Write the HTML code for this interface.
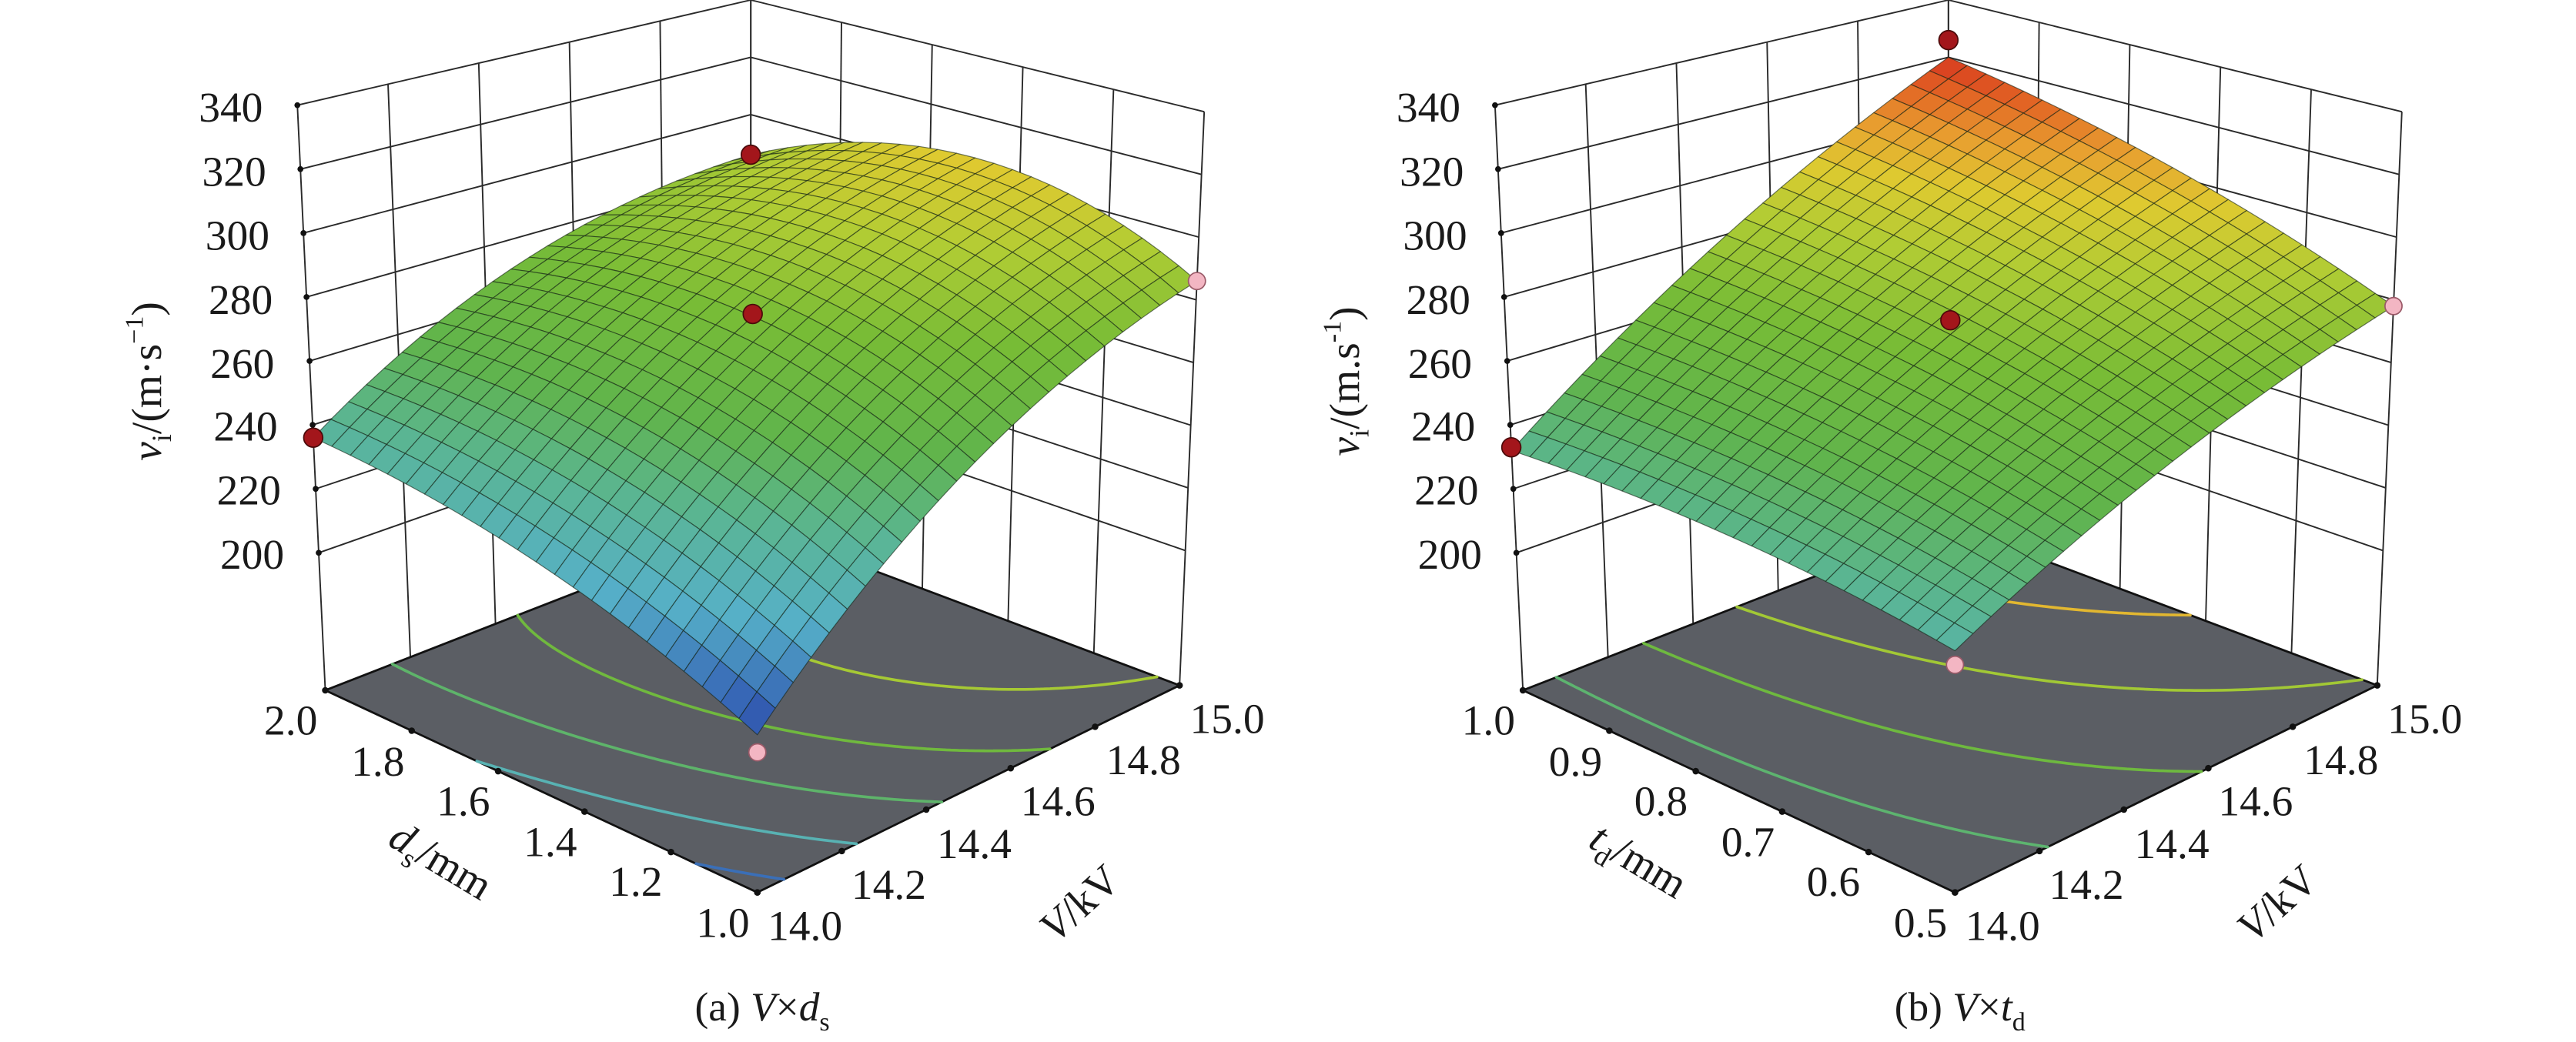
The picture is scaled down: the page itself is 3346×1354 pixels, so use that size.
<!DOCTYPE html>
<html><head><meta charset="utf-8"><style>
html,body{margin:0;padding:0;background:#fff;}
svg{display:block;}
text{font-family:"Liberation Serif","DejaVu Serif",serif;fill:#1a1a1a;}
</style></head><body>
<svg id="s" width="3346" height="1354" viewBox="0 0 1568 634" preserveAspectRatio="none" xmlns="http://www.w3.org/2000/svg">
<rect width="1568" height="634" fill="#fff"/>
<g id="ga"></g>
<g id="gb"></g>
<g font-size="26" font-family="Liberation Serif, DejaVu Serif, serif" style="font-family:'Liberation Serif','DejaVu Serif',serif">
<g text-anchor="end">
<text x="160" y="74">340</text><text x="162" y="113">320</text><text x="164" y="152">300</text><text x="166" y="191">280</text>
<text x="167" y="230">260</text><text x="169" y="268">240</text><text x="171" y="307">220</text><text x="173" y="346">200</text>
</g>
<g text-anchor="middle">
<text x="177" y="447">2.0</text><text x="230" y="472">1.8</text><text x="282" y="496">1.6</text><text x="335" y="521">1.4</text><text x="387" y="545">1.2</text><text x="440" y="570">1.0</text>
<text x="490" y="572">14.0</text><text x="541" y="547">14.2</text><text x="593" y="522">14.4</text><text x="644" y="496">14.6</text><text x="696" y="471">14.8</text><text x="747" y="446">15.0</text>
</g>
<text transform="translate(264,531) rotate(31)" text-anchor="middle"><tspan font-style="italic">d</tspan><tspan font-size="17" dy="6">s</tspan><tspan dy="-6">/mm</tspan></text>
<text transform="translate(663,556) rotate(-42)" text-anchor="middle"><tspan font-style="italic">V</tspan>/kV</text>
<text transform="translate(98,232) rotate(-90)" text-anchor="middle"><tspan font-style="italic">v</tspan><tspan font-size="17" dy="6">i</tspan><tspan dy="-6">/(m·s</tspan><tspan font-size="16" dy="-11">−1</tspan><tspan dy="11">)</tspan></text>
<text x="464" y="621" text-anchor="middle" font-size="25">(a) <tspan font-style="italic">V</tspan>×<tspan font-style="italic">d</tspan><tspan font-size="16" dy="6">s</tspan></text>

<g text-anchor="end">
<text x="889" y="74">340</text><text x="891" y="113">320</text><text x="893" y="152">300</text><text x="895" y="191">280</text>
<text x="896" y="230">260</text><text x="898" y="268">240</text><text x="900" y="307">220</text><text x="902" y="346">200</text>
</g>
<g text-anchor="middle">
<text x="906" y="447">1.0</text><text x="959" y="472">0.9</text><text x="1011" y="496">0.8</text><text x="1064" y="521">0.7</text><text x="1116" y="545">0.6</text><text x="1169" y="570">0.5</text>
<text x="1219" y="572">14.0</text><text x="1270" y="547">14.2</text><text x="1322" y="522">14.4</text><text x="1373" y="496">14.6</text><text x="1425" y="471">14.8</text><text x="1476" y="446">15.0</text>
</g>
<text transform="translate(993,531) rotate(31)" text-anchor="middle"><tspan font-style="italic">t</tspan><tspan font-size="17" dy="6">d</tspan><tspan dy="-6">/mm</tspan></text>
<text transform="translate(1392,556) rotate(-42)" text-anchor="middle"><tspan font-style="italic">V</tspan>/kV</text>
<text transform="translate(827,232) rotate(-90)" text-anchor="middle"><tspan font-style="italic">v</tspan><tspan font-size="17" dy="6">i</tspan><tspan dy="-6">/(m.s</tspan><tspan font-size="16" dy="-11">-1</tspan><tspan dy="11">)</tspan></text>
<text x="1193" y="621" text-anchor="middle" font-size="25">(b) <tspan font-style="italic">V</tspan>×<tspan font-style="italic">t</tspan><tspan font-size="16" dy="6">d</tspan></text>
</g>
</svg>
<script>
(function(){
var NS="http://www.w3.org/2000/svg";
var C={F:[461,543],R:[718,417],L:[198,420],B:[457,319],Ft:[461,153],Rt:[733,68],Lt:[181,64],Bt:[457,0]};
var ZF=157,ZT=340;
function bl(A,R,L,B,u,v,i){return A[i]*(1-u)*(1-v)+R[i]*u*(1-v)+L[i]*(1-u)*v+B[i]*u*v;}
function P(dx,u,v,z){var t=(z-ZF)/(ZT-ZF);var fx=bl(C.F,C.R,C.L,C.B,u,v,0),fy=bl(C.F,C.R,C.L,C.B,u,v,1);
var tx=bl(C.Ft,C.Rt,C.Lt,C.Bt,u,v,0),ty=bl(C.Ft,C.Rt,C.Lt,C.Bt,u,v,1);return [dx+fx+t*(tx-fx),fy+t*(ty-fy)];}
var stops=[[200,[38,56,150]],[212,[52,96,180]],[228,[86,176,200]],[245,[90,181,150]],[262,[96,180,76]],[282,[120,188,54]],[298,[176,204,52]],[310,[222,202,48]],[319,[232,160,48]],[327,[226,100,36]],[336,[212,42,30]]];
function cmap(z){if(z<=stops[0][0])return stops[0][1];for(var i=1;i<stops.length;i++){if(z<=stops[i][0]){var a=stops[i-1],b=stops[i],t=(z-a[0])/(b[0]-a[0]);return [0,1,2].map(function(k){return Math.round(a[1][k]+t*(b[1][k]-a[1][k]));});}}return stops[stops.length-1][1];}
function rgb(c){return "rgb("+c[0]+","+c[1]+","+c[2]+")";}
function el(g,name,attrs){var e=document.createElementNS(NS,name);for(var k in attrs)e.setAttribute(k,attrs[k]);g.appendChild(e);return e;}
function line(g,a,b,w,col){el(g,"line",{x1:a[0].toFixed(2),y1:a[1].toFixed(2),x2:b[0].toFixed(2),y2:b[1].toFixed(2),stroke:col||"#222","stroke-width":w||0.9});}
function panel(g,dx,f,off,levels,dots){
  var gl="#2a2a2a";
  for(var z=200;z<=340;z+=20){line(g,P(dx,0,1,z),P(dx,1,1,z),0.9,gl);line(g,P(dx,1,1,z),P(dx,1,0,z),0.9,gl);}
  for(var i=0;i<=5;i++){var s=i/5;line(g,P(dx,s,1,ZF),P(dx,s,1,ZT),0.9,gl);line(g,P(dx,1,s,ZF),P(dx,1,s,ZT),0.9,gl);}
  var fl=[P(dx,0,0,ZF),P(dx,1,0,ZF),P(dx,1,1,ZF),P(dx,0,1,ZF)];
  el(g,"polygon",{points:fl.map(function(p){return p[0].toFixed(2)+","+p[1].toFixed(2);}).join(" "),fill:"#5b5e64",stroke:"#111","stroke-width":1.3});
  var M=90;var val=[];for(var i=0;i<=M;i++){val[i]=[];for(var j=0;j<=M;j++)val[i][j]=f(i/M,j/M);}
  levels.forEach(function(L){var col=rgb(cmap(L+off));var d="";
    for(var i=0;i<M;i++)for(var j=0;j<M;j++){
      var c=[[i,j],[i+1,j],[i+1,j+1],[i,j+1]];var pts=[];
      for(var k=0;k<4;k++){var a=c[k],b=c[(k+1)%4];var va=val[a[0]][a[1]]-L,vb=val[b[0]][b[1]]-L;
        if((va<0)!=(vb<0)){var t=va/(va-vb);pts.push([(a[0]+t*(b[0]-a[0]))/M,(a[1]+t*(b[1]-a[1]))/M]);}}
      for(var k=0;k+1<pts.length;k+=2){var p=P(dx,pts[k][0],pts[k][1],ZF),q=P(dx,pts[k+1][0],pts[k+1][1],ZF);
        d+="M"+p[0].toFixed(2)+" "+p[1].toFixed(2)+"L"+q[0].toFixed(2)+" "+q[1].toFixed(2);}
    }
    el(g,"path",{d:d,stroke:col,"stroke-width":1.7,fill:"none","stroke-linecap":"round"});});
  for(var z=200;z<=340;z+=20){var p=P(dx,0,1,z);el(g,"circle",{cx:p[0],cy:p[1],r:1.8,fill:"#111"});}
  for(var i=0;i<=5;i++){var s=i/5;var p=P(dx,0,s,ZF);el(g,"circle",{cx:p[0],cy:p[1],r:2,fill:"#111"});p=P(dx,s,0,ZF);el(g,"circle",{cx:p[0],cy:p[1],r:2,fill:"#111"});}
  var p=P(dx,1,1,ZF);el(g,"circle",{cx:p[0],cy:p[1],r:2,fill:"#111"});
  var N=24;var cells=[];
  for(var i=0;i<N;i++)for(var j=0;j<N;j++)cells.push([i,j]);
  cells.sort(function(a,b){return (b[0]+b[1])-(a[0]+a[1]);});
  var sg=el(g,"g",{"stroke-linejoin":"round"});
  cells.forEach(function(c){var u0=c[0]/N,u1=(c[0]+1)/N,v0=c[1]/N,v1=(c[1]+1)/N;
    var q=[[u0,v0],[u1,v0],[u1,v1],[u0,v1]];var zs=q.map(function(a){return f(a[0],a[1]);});
    var zm=(zs[0]+zs[1]+zs[2]+zs[3])/4;
    var pts=q.map(function(a,k){var pp=P(dx,a[0],a[1],zs[k]);return pp[0].toFixed(2)+","+pp[1].toFixed(2);}).join(" ");
    el(sg,"polygon",{points:pts,fill:rgb(cmap(zm+off)),stroke:"rgba(20,35,20,0.6)","stroke-width":0.55});});
  dots.forEach(function(d){var p=P(dx,d[0],d[1],d[2]);
    el(g,"circle",{cx:p[0].toFixed(2),cy:p[1].toFixed(2),r:d[3]?5.2:5.8,fill:d[3]?"#f3b6c3":"#a3161b",stroke:d[3]?"#9a5a68":"#4a0a0a","stroke-width":0.8});});
}
function fa(u,v){return 202+130*u-46*u*u+v*(60+20*u)+v*v*(-26-54*u);}
function fb(u,v){return 226+52*u+6*v+36*u*v+15*(u-u*u)+15*(v-v*v);}
panel(document.getElementById("ga"),0,fa,5,[210,230,250,270,290],
  [[1,1,286,0],[0,1,236,0],[1,0,286,1],[0,0,197,1],[0.5,0.5,278,0]]);
panel(document.getElementById("gb"),729,fb,14,[240,260,280,300,320],
  [[1,1,326,0],[0,1,233,0],[1,0,278,1],[0,0,222,1],[0.5,0.5,276,0]]);
})();
</script>
</body></html>
